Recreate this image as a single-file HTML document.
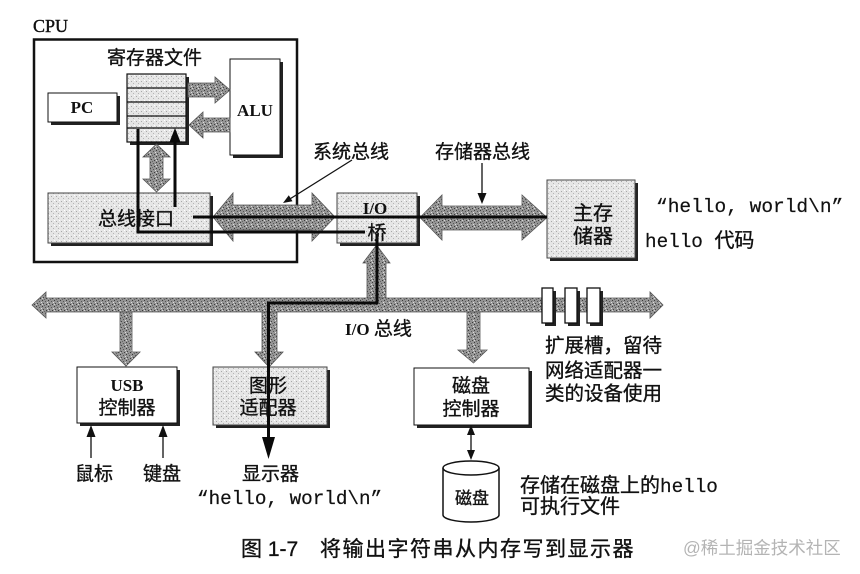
<!DOCTYPE html>
<html><head><meta charset="utf-8"><style>
html,body{margin:0;padding:0;background:#fff;}
svg{display:block;}
.cjk{font-family:"Liberation Sans","Noto Sans CJK SC",sans-serif;fill:#111;stroke:#111;stroke-width:0.35px;}
.ser{font-family:"Liberation Serif","Noto Serif CJK SC",serif;fill:#111;font-weight:bold;}
.mono{font-family:"Liberation Mono","Noto Sans CJK SC",monospace;fill:#111;stroke:#111;stroke-width:0.2px;}
</style></head><body>
<svg width="860" height="574" viewBox="0 0 860 574" xmlns="http://www.w3.org/2000/svg">
<defs>
<pattern id="dk" width="6" height="6" patternUnits="userSpaceOnUse">
<rect width="6" height="6" fill="#959595"/>
<rect x="0" y="0" width="1" height="1" fill="#3a3a3a"/>
<rect x="3" y="1" width="1" height="1" fill="#555"/>
<rect x="1" y="3" width="1" height="1" fill="#444"/>
<rect x="4" y="4" width="1" height="1" fill="#3a3a3a"/>
<rect x="2" y="5" width="1" height="1" fill="#666"/>
<rect x="5" y="2" width="1" height="1" fill="#ddd"/>
<rect x="0" y="4" width="1" height="1" fill="#d8d8d8"/>
</pattern>
<pattern id="lt" width="5" height="5" patternUnits="userSpaceOnUse">
<rect width="5" height="5" fill="#e6e6e6"/>
<rect x="1" y="1" width="1" height="1" fill="#a8a8a8"/>
<rect x="3" y="3" width="1" height="1" fill="#b5b5b5"/>
<rect x="4" y="0" width="1" height="1" fill="#fff"/>
</pattern>
</defs>

<!-- CPU -->
<text class="ser" x="33" y="32" font-size="18" font-weight="normal" style="font-weight:normal;stroke:#111;stroke-width:0.4px">CPU</text>
<rect x="34" y="39.5" width="263" height="222.5" fill="none" stroke="#111" stroke-width="2.5"/>

<text class="cjk" x="107" y="64" font-size="19">寄存器文件</text>

<!-- register file -->
<rect x="130" y="77" width="59" height="68" fill="#222"/>
<rect x="127" y="74" width="59" height="68" fill="url(#lt)" stroke="#111" stroke-width="1.2"/>
<line x1="127" y1="88" x2="186" y2="88" stroke="#111" stroke-width="1.2"/>
<line x1="127" y1="102" x2="186" y2="102" stroke="#111" stroke-width="1.2"/>
<line x1="127" y1="116" x2="186" y2="116" stroke="#111" stroke-width="1.2"/>
<line x1="127" y1="128" x2="186" y2="128" stroke="#111" stroke-width="1.2"/>

<!-- PC -->
<rect x="51" y="96" width="69" height="29" fill="#222"/>
<rect x="48" y="93" width="69" height="29" fill="#fff" stroke="#111" stroke-width="1"/>
<text class="ser" x="82" y="113" font-size="17" text-anchor="middle">PC</text>

<!-- ALU -->
<rect x="233" y="62" width="50" height="96" fill="#222"/>
<rect x="230" y="59" width="50" height="96" fill="#fff" stroke="#111" stroke-width="1"/>
<text class="ser" x="255" y="116" font-size="17" text-anchor="middle">ALU</text>

<!-- reg <-> ALU arrows -->
<polygon points="188,83 215,83 215,77 230,90 215,103 215,97 188,97" fill="url(#dk)" stroke="#555" stroke-width="0.8"/>
<polygon points="230,118 203,118 203,112 189,125 203,138 203,132 230,132" fill="url(#dk)" stroke="#555" stroke-width="0.8"/>

<!-- reg <-> bus interface -->
<polygon points="156.5,144 170,157 163,157 163,179 170,179 156.5,192 143,179 150,179 150,157 143,157" fill="url(#dk)" stroke="#555" stroke-width="0.8"/>

<!-- bus interface -->
<rect x="51" y="196" width="162" height="50" fill="#222"/>
<rect x="48" y="193" width="162" height="50" fill="url(#lt)" stroke="#444" stroke-width="1"/>

<!-- system bus -->
<polygon points="213,217 233,193 233,205 312,205 312,193 335,217 312,241 312,230 233,230 233,241" fill="url(#dk)" stroke="#555" stroke-width="0.8"/>

<!-- I/O bridge -->
<rect x="340" y="196" width="80" height="50" fill="#222"/>
<rect x="337" y="193" width="80" height="50" fill="url(#lt)" stroke="#444" stroke-width="1"/>

<!-- memory bus -->
<polygon points="420,217.5 442,195 442,206 522,206 522,195 547,217.5 522,240 522,230 442,230 442,240" fill="url(#dk)" stroke="#555" stroke-width="0.8"/>

<!-- main memory -->
<rect x="550" y="183" width="88" height="78" fill="#222"/>
<rect x="547" y="180" width="88" height="78" fill="url(#lt)" stroke="#444" stroke-width="1"/>

<!-- branch arrows from I/O bus -->
<polygon points="376.5,245 390,263 386,263 386,305 367,305 367,263 363,263" fill="url(#dk)" stroke="#555" stroke-width="0.8"/>
<polygon points="120,305 132,305 132,352 140,352 126,366 112,352 120,352" fill="url(#dk)" stroke="#555" stroke-width="0.8"/>
<polygon points="262,305 277,305 277,352 283,352 269,367 255,352 262,352" fill="url(#dk)" stroke="#555" stroke-width="0.8"/>
<polygon points="467,305 480,305 480,350 487,350 473.5,363 458,350 467,350" fill="url(#dk)" stroke="#555" stroke-width="0.8"/>

<!-- I/O bus -->
<polygon points="32,305 46,292 46,298 650,298 650,292 663,305 650,318 650,312 46,312 46,318" fill="url(#dk)" stroke="#555" stroke-width="0.8"/>

<!-- expansion slots -->
<rect x="545" y="291" width="11" height="35" fill="#222"/>
<rect x="542" y="288" width="11" height="35" fill="#fff" stroke="#111" stroke-width="1.3"/>
<rect x="568" y="291" width="12" height="35" fill="#222"/>
<rect x="565" y="288" width="12" height="35" fill="#fff" stroke="#111" stroke-width="1.3"/>
<rect x="590" y="291" width="13" height="35" fill="#222"/>
<rect x="587" y="288" width="13" height="35" fill="#fff" stroke="#111" stroke-width="1.3"/>

<!-- USB controller -->
<rect x="80" y="370" width="100" height="56" fill="#222"/>
<rect x="77" y="367" width="100" height="56" fill="#fff" stroke="#111" stroke-width="1"/>
<!-- graphics adapter -->
<rect x="216" y="370" width="114" height="58" fill="#222"/>
<rect x="213" y="367" width="114" height="58" fill="url(#lt)" stroke="#444" stroke-width="1"/>
<!-- disk controller -->
<rect x="417" y="371" width="115" height="57" fill="#222"/>
<rect x="414" y="368" width="115" height="57" fill="#fff" stroke="#111" stroke-width="1"/>

<!-- black data path lines -->
<g fill="none" stroke="#0a0a0a" stroke-width="3">
<path d="M138,129 L138,232 L365,232"/>
<path d="M175,207 L175,140"/>
<path d="M193,217 L547,217"/>
<path d="M377,234 L377,303 L268.5,303 L268.5,440"/>
</g>
<polygon points="175,128 169.5,142 180.5,142" fill="#0a0a0a"/>
<polygon points="262,437 275,437 268.5,459" fill="#0a0a0a"/>

<!-- pointer lines -->
<line x1="352" y1="160" x2="289" y2="199.5" stroke="#111" stroke-width="1.3"/>
<polygon points="283,203 292.5,201.2 288.8,195.2" fill="#111"/>
<line x1="482" y1="163" x2="482" y2="195" stroke="#111" stroke-width="1.3"/>
<polygon points="477.5,193 486.5,193 482,204" fill="#111"/>

<!-- mouse/keyboard arrows -->
<line x1="91" y1="458" x2="91" y2="435" stroke="#111" stroke-width="1.3"/>
<polygon points="86.5,437 95.5,437 91,425" fill="#111"/>
<line x1="163" y1="458" x2="163" y2="435" stroke="#111" stroke-width="1.3"/>
<polygon points="158.5,437 167.5,437 163,425" fill="#111"/>

<!-- disk double arrow -->
<line x1="471" y1="432" x2="471" y2="453" stroke="#111" stroke-width="1.3"/>
<polygon points="467,435 475,435 471,425" fill="#111"/>
<polygon points="467,450 475,450 471,460" fill="#111"/>

<!-- disk cylinder -->
<path d="M443,468 L443,515 A28,7 0 0 0 499,515 L499,468" fill="#fff" stroke="#111" stroke-width="1.5"/>
<ellipse cx="471" cy="468" rx="28" ry="7" fill="#fff" stroke="#111" stroke-width="1.5"/>

<!-- labels -->
<text class="cjk" x="98" y="225" font-size="19">总线接口</text>
<text class="cjk" x="313" y="158" font-size="19">系统总线</text>
<text class="ser" x="375" y="214" font-size="17" text-anchor="middle">I/O</text>
<text class="cjk" x="377" y="239" font-size="19" text-anchor="middle">桥</text>
<text class="cjk" x="435" y="158" font-size="19">存储器总线</text>
<text class="cjk" x="593" y="220" font-size="20" text-anchor="middle">主存</text>
<text class="cjk" x="593" y="243" font-size="20" text-anchor="middle">储器</text>
<text class="mono" x="656" y="212" font-size="19.5">“hello, world\n”</text>
<text class="mono" x="645" y="247" font-size="19.3">hello <tspan class="cjk" font-size="20">代码</tspan></text>

<text class="ser" x="345" y="335" font-size="17">I/O <tspan class="cjk" font-size="19" font-weight="normal">总线</tspan></text>

<text class="ser" x="127" y="391" font-size="17" text-anchor="middle">USB</text>
<text class="cjk" x="127" y="414" font-size="19" text-anchor="middle">控制器</text>
<text class="cjk" x="268" y="392" font-size="19" text-anchor="middle">图形</text>
<text class="cjk" x="268" y="414" font-size="19" text-anchor="middle">适配器</text>
<text class="cjk" x="471" y="392" font-size="19" text-anchor="middle">磁盘</text>
<text class="cjk" x="471" y="415" font-size="19" text-anchor="middle">控制器</text>

<text class="cjk" x="545" y="352" font-size="19.5">扩展槽，留待</text>
<text class="cjk" x="545" y="377" font-size="19.5">网络适配器一</text>
<text class="cjk" x="545" y="400" font-size="19.5">类的设备使用</text>

<text class="cjk" x="75" y="480" font-size="19">鼠标</text>
<text class="cjk" x="143" y="480" font-size="19">键盘</text>
<text class="cjk" x="242" y="480" font-size="19">显示器</text>
<text class="mono" x="197" y="504" font-size="19.3">“hello, world\n”</text>

<text class="cjk" x="472" y="504" font-size="17" text-anchor="middle">磁盘</text>
<text class="cjk" x="520" y="492" font-size="20">存储在磁盘上的<tspan class="mono" font-size="19.3">hello</tspan></text>
<text class="cjk" x="520" y="513" font-size="20">可执行文件</text>

<!-- caption -->
<text class="cjk" x="241" y="556" font-size="21">图 1-7</text>
<text class="cjk" x="320" y="556" font-size="21" letter-spacing="1.5">将输出字符串从内存写到显示器</text>
<text x="683" y="554" font-size="17.5" style="font-family:'Liberation Sans','Noto Sans CJK SC',sans-serif;fill:#b4b4b4">@稀土掘金技术社区</text>
</svg>
</body></html>
